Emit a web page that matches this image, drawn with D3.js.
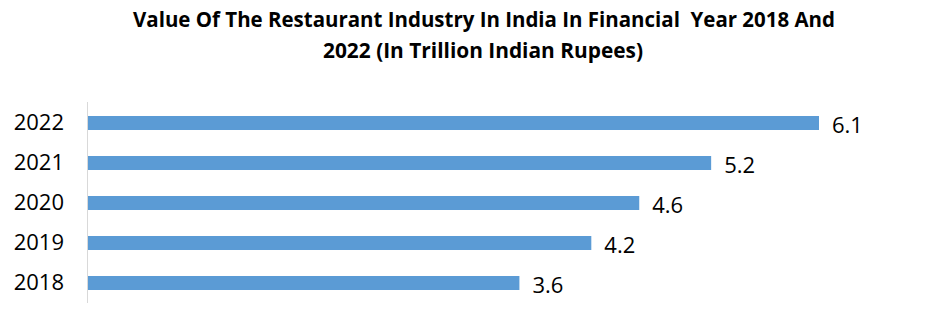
<!DOCTYPE html>
<html>
<head>
<meta charset="utf-8">
<script src="https://cdn.jsdelivr.net/npm/d3@7"></script>
<style>
  html, body { margin: 0; padding: 0; background: #fff; }
  svg { display: block; }
  text { font-family: "Open Sans", "Liberation Sans", Arial, sans-serif; fill: #000; }
</style>
</head>
<body>
<div id="chart"></div>
<script>
// Restaurant industry value in India, trillion INR
const years = ["2022", "2021", "2020", "2019", "2018"];
const values = [6.1, 5.2, 4.6, 4.2, 3.6];
const titleLines = [
  "Value Of The Restaurant Industry In India In Financial  Year 2018 And",
  "2022 (In Trillion Indian Rupees)"
];

const width = 950, height = 327;
const svg = d3.select("#chart").append("svg")
  .attr("width", width).attr("height", height);

// Title, two centred lines squeezed to a fixed width
const titleWidths = [702, 320];
const titleCenter = [484, 483];
const titleY = [27, 58];
titleLines.forEach((line, i) => {
  svg.append("text")
    .attr("x", titleCenter[i])
    .attr("y", titleY[i])
    .attr("text-anchor", "middle")
    .style("font-weight", "bold")
    .style("font-size", "22px")
    .style("white-space", "pre")
    .attr("textLength", titleWidths[i])
    .attr("lengthAdjust", "spacingAndGlyphs")
    .text(line);
});

// Scales
const x = d3.scaleLinear().domain([0, 6.1]).range([88, 819]);
const y = d3.scaleBand().domain(years).range([103, 303])
  .paddingInner(0.65).paddingOuter(0.325);

// Category axis line
svg.append("line")
  .attr("x1", 87.5).attr("x2", 87.5)
  .attr("y1", 102).attr("y2", 303)
  .attr("stroke", "#d9d9d9").attr("stroke-width", 1);

const data = years.map((yr, i) => ({ year: yr, value: values[i] }));

// Bars
svg.append("g").selectAll("rect")
  .data(data).join("rect")
  .attr("x", x(0))
  .attr("y", d => y(d.year))
  .attr("width", d => x(d.value) - x(0))
  .attr("height", y.bandwidth())
  .attr("fill", "#5b9bd5");

// Year labels
svg.append("g").selectAll("text")
  .data(data).join("text")
  .attr("x", 64)
  .attr("y", d => y(d.year) + y.bandwidth() / 2 + 7)
  .attr("text-anchor", "end")
  .style("font-size", "22px")
  .text(d => d.year);

// Value labels
svg.append("g").selectAll("text")
  .data(data).join("text")
  .attr("x", d => x(d.value) + 13)
  .attr("y", d => y(d.year) + y.bandwidth() / 2 + 9.5)
  .style("font-size", "22px")
  .text(d => d3.format(".1f")(d.value));
</script>
</body>
</html>
